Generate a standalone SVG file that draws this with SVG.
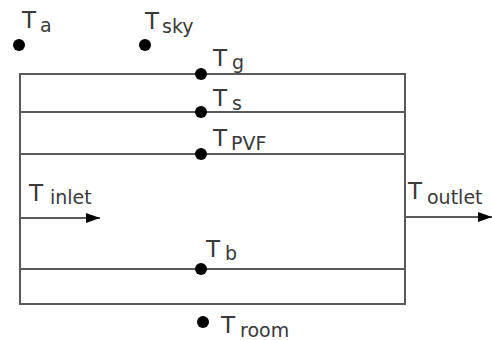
<svg xmlns="http://www.w3.org/2000/svg" width="492" height="340" viewBox="0 0 492 340">
  <defs>
    <style>
      .wall { stroke: #5a5a5a; stroke-width: 2; fill: none; }
      .node { fill: #000; }
      .lbl { font-family: "DejaVu Sans", Verdana, sans-serif; fill: #3a3a3a; }
      .big { font-size: 23px; }
      .sub { font-size: 19px; }
    </style>
    <marker id="arrow" viewBox="0 0 14 10" refX="14" refY="5" markerWidth="14" markerHeight="10" markerUnits="userSpaceOnUse" orient="auto">
      <path d="M0,0 L14,5 L0,10 Z" fill="#000"/>
    </marker>
  </defs>
  <rect width="492" height="340" fill="#fff"/>

  <!-- collector layers -->
  <g id="connectors">
    <path class="wall" d="M20,74 H405 V304 H20 Z"/>
    <line class="wall" x1="20" y1="112" x2="405" y2="112"/>
    <line class="wall" x1="20" y1="154" x2="405" y2="154"/>
    <line class="wall" x1="20" y1="269" x2="405" y2="269"/>
    <line class="wall" x1="20" y1="218" x2="100" y2="218" marker-end="url(#arrow)"/>
    <line class="wall" x1="405" y1="217" x2="492" y2="217" marker-end="url(#arrow)"/>
  </g>

  <g id="Ta">
    <circle class="node" cx="19" cy="45" r="6"/>
    <text class="lbl" x="22" y="28"><tspan class="big">T</tspan><tspan class="sub" x="40" y="32">a</tspan></text>
  </g>
  <g id="Tsky">
    <circle class="node" cx="145" cy="45" r="6"/>
    <text class="lbl" x="145" y="29"><tspan class="big">T</tspan><tspan class="sub" x="162" y="33">sky</tspan></text>
  </g>
  <g id="Tg">
    <circle class="node" cx="201" cy="74" r="6"/>
    <text class="lbl" x="213" y="66"><tspan class="big">T</tspan><tspan class="sub" x="232" y="69">g</tspan></text>
  </g>
  <g id="Ts">
    <circle class="node" cx="201" cy="112" r="6"/>
    <text class="lbl" x="213" y="106"><tspan class="big">T</tspan><tspan class="sub" x="232" y="110">s</tspan></text>
  </g>
  <g id="Tpvf">
    <circle class="node" cx="201" cy="154" r="6"/>
    <text class="lbl" x="213" y="146"><tspan class="big">T</tspan><tspan class="sub" x="231" y="150">PVF</tspan></text>
  </g>
  <g id="Tinlet">
    <text class="lbl" x="29" y="201"><tspan class="big">T</tspan><tspan class="sub" x="50" y="204">inlet</tspan></text>
  </g>
  <g id="Toutlet">
    <text class="lbl" x="408" y="199"><tspan class="big">T</tspan><tspan class="sub" x="427" y="204">outlet</tspan></text>
  </g>
  <g id="Tb">
    <circle class="node" cx="201" cy="269" r="6"/>
    <text class="lbl" x="206" y="257"><tspan class="big">T</tspan><tspan class="sub" x="225" y="260">b</tspan></text>
  </g>
  <g id="Troom">
    <circle class="node" cx="203" cy="322" r="6"/>
    <text class="lbl" x="221" y="333"><tspan class="big">T</tspan><tspan class="sub" x="240" y="337">room</tspan></text>
  </g>
</svg>
